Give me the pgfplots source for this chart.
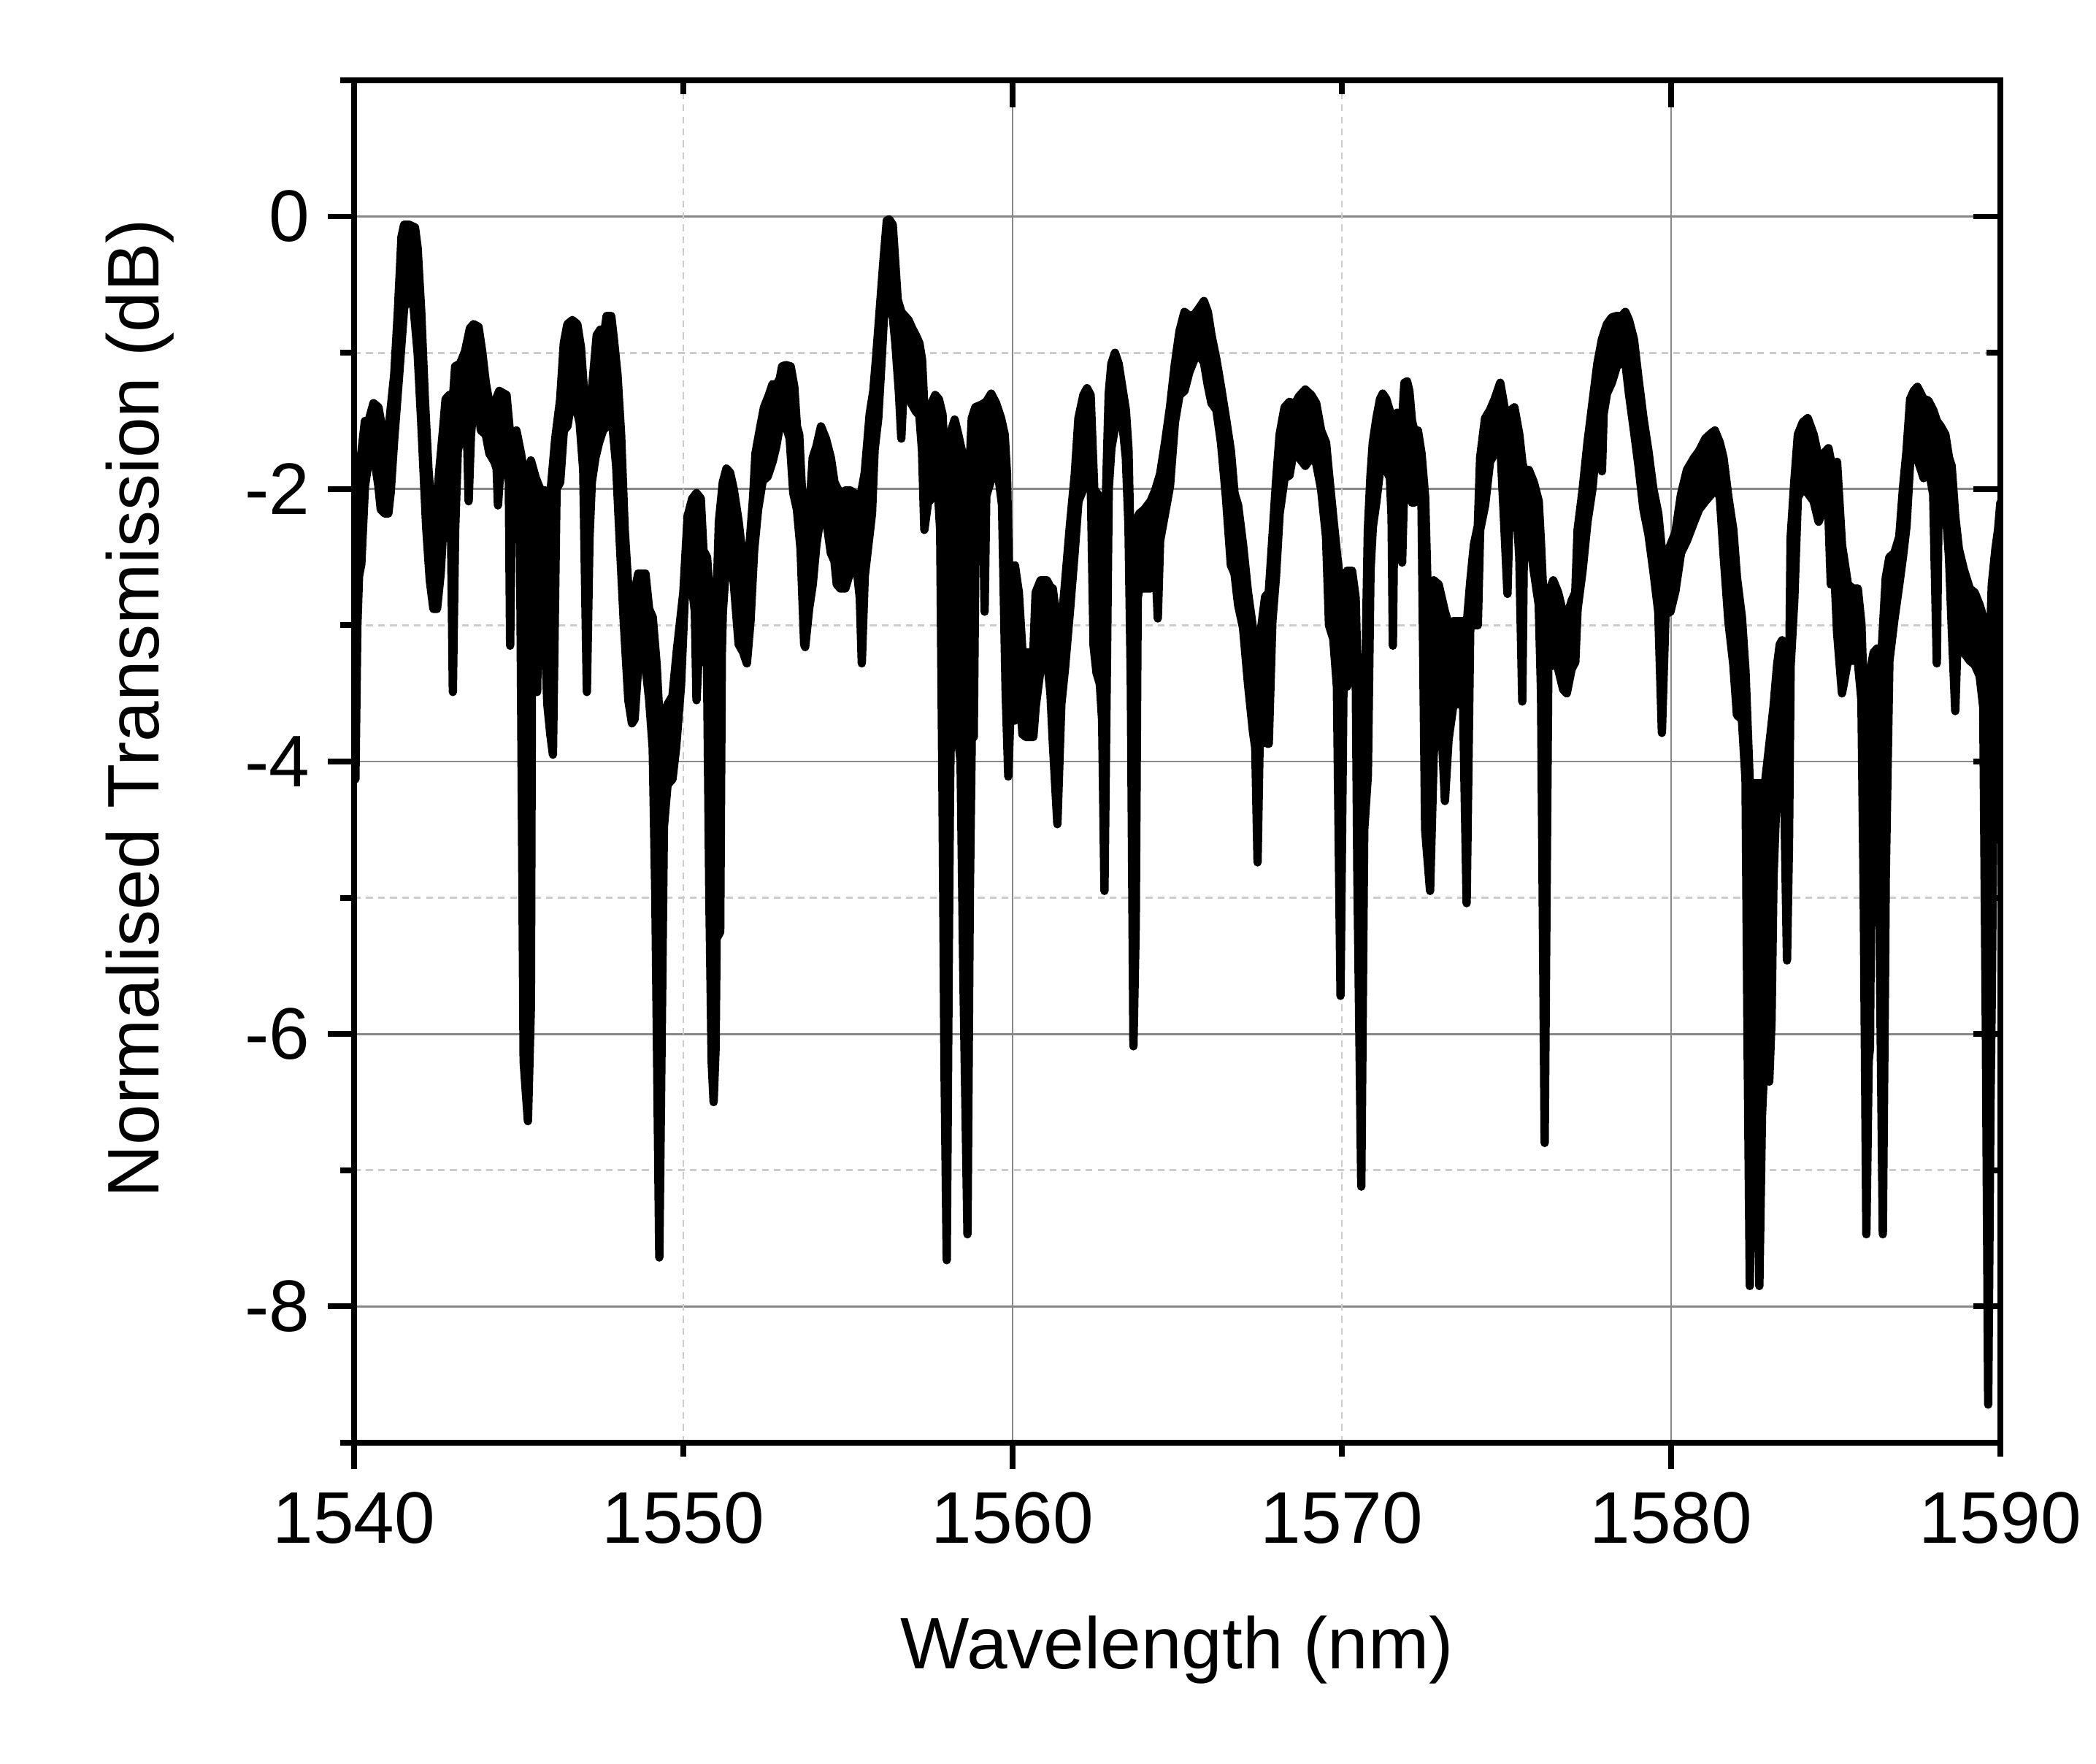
\documentclass[border=0pt]{standalone}
\usepackage{fontspec}
\setmainfont{Liberation Sans}
\usepackage{pgfplots}
\usepackage{pgfplotstable}
\pgfplotsset{compat=1.18}

% Upper and lower edges of the noisy transmission trace
\pgfplotstableread{
x y
1540.00 -2.60
1540.04 -2.03
1540.19 -1.80
1540.33 -1.50
1540.44 -1.50
1540.59 -1.37
1540.74 -1.40
1540.85 -1.55
1540.93 -1.60
1541.07 -1.51
1541.22 -1.16
1541.33 -0.70
1541.44 -0.15
1541.52 -0.06
1541.67 -0.06
1541.85 -0.08
1541.93 -0.23
1542.04 -0.70
1542.15 -1.34
1542.26 -1.86
1542.37 -2.20
1542.48 -2.21
1542.59 -1.86
1542.70 -1.57
1542.78 -1.34
1542.89 -1.31
1543.00 -1.34
1543.07 -1.10
1543.22 -1.08
1543.37 -0.99
1543.52 -0.82
1543.63 -0.79
1543.78 -0.81
1543.89 -0.99
1544.00 -1.22
1544.11 -1.37
1544.26 -1.37
1544.41 -1.28
1544.63 -1.31
1544.74 -1.60
1544.85 -1.60
1544.93 -1.57
1545.07 -1.74
1545.22 -1.98
1545.37 -1.79
1545.52 -1.92
1545.67 -2.01
1545.81 -2.01
1545.96 -2.04
1546.11 -1.63
1546.26 -1.34
1546.37 -0.93
1546.48 -0.79
1546.63 -0.76
1546.78 -0.79
1546.89 -0.96
1547.00 -1.34
1547.11 -1.63
1547.22 -1.28
1547.37 -0.87
1547.48 -0.83
1547.59 -0.87
1547.67 -0.73
1547.81 -0.73
1547.89 -0.90
1548.00 -1.16
1548.11 -1.60
1548.22 -2.30
1548.37 -2.88
1548.52 -2.76
1548.63 -2.62
1548.85 -2.62
1548.96 -2.88
1549.07 -2.94
1549.19 -3.29
1549.30 -3.80
1549.37 -3.70
1549.52 -3.58
1549.67 -3.52
1549.81 -3.17
1550.00 -2.76
1550.13 -2.20
1550.27 -2.07
1550.40 -2.03
1550.53 -2.07
1550.61 -2.45
1550.72 -2.50
1550.79 -2.73
1550.90 -2.85
1551.01 -2.80
1551.08 -2.24
1551.20 -1.95
1551.31 -1.85
1551.42 -1.88
1551.53 -2.00
1551.68 -2.24
1551.79 -2.47
1551.90 -2.58
1552.01 -2.41
1552.12 -2.06
1552.19 -1.74
1552.34 -1.54
1552.45 -1.40
1552.60 -1.31
1552.71 -1.23
1552.82 -1.24
1552.93 -1.19
1553.00 -1.10
1553.11 -1.09
1553.26 -1.10
1553.37 -1.25
1553.45 -1.54
1553.52 -1.60
1553.59 -1.95
1553.70 -2.36
1553.82 -2.18
1553.93 -1.77
1554.04 -1.69
1554.18 -1.54
1554.33 -1.63
1554.48 -1.77
1554.59 -1.95
1554.77 -2.04
1554.92 -2.01
1555.07 -2.01
1555.25 -2.04
1555.37 -2.07
1555.51 -1.88
1555.66 -1.45
1555.77 -1.28
1555.85 -1.05
1555.96 -0.70
1556.07 -0.35
1556.18 -0.03
1556.25 -0.02
1556.36 -0.06
1556.44 -0.35
1556.51 -0.61
1556.62 -0.70
1556.73 -0.73
1556.84 -0.76
1556.95 -0.82
1557.06 -0.87
1557.17 -0.93
1557.25 -1.05
1557.32 -1.40
1557.43 -1.54
1557.54 -1.37
1557.65 -1.31
1557.76 -1.34
1557.87 -1.45
1557.95 -1.80
1558.02 -1.80
1558.10 -1.60
1558.24 -1.49
1558.35 -1.60
1558.46 -1.72
1558.54 -2.06
1558.65 -2.06
1558.76 -1.48
1558.87 -1.40
1559.06 -1.38
1559.20 -1.36
1559.35 -1.30
1559.50 -1.37
1559.65 -1.48
1559.76 -1.60
1559.83 -1.89
1559.90 -2.76
1559.98 -2.59
1560.07 -2.56
1560.19 -2.76
1560.30 -3.20
1560.41 -3.20
1560.63 -3.20
1560.70 -2.76
1560.85 -2.67
1561.04 -2.67
1561.15 -2.72
1561.22 -2.73
1561.36 -3.00
1561.48 -3.00
1561.59 -2.70
1561.74 -2.27
1561.89 -1.89
1562.00 -1.48
1562.15 -1.31
1562.26 -1.26
1562.37 -1.31
1562.48 -2.00
1562.62 -2.05
1562.72 -2.90
1562.84 -2.00
1562.92 -1.30
1563.00 -1.08
1563.11 -1.00
1563.22 -1.08
1563.33 -1.25
1563.44 -1.42
1563.52 -1.71
1563.59 -2.50
1563.67 -2.60
1563.74 -2.24
1563.85 -2.18
1564.00 -2.15
1564.19 -2.09
1564.33 -2.01
1564.48 -1.89
1564.63 -1.66
1564.78 -1.40
1564.93 -1.08
1565.07 -0.84
1565.22 -0.70
1565.37 -0.73
1565.52 -0.72
1565.67 -0.67
1565.81 -0.62
1565.93 -0.70
1566.04 -0.87
1566.19 -1.05
1566.33 -1.25
1566.48 -1.48
1566.63 -1.72
1566.74 -2.03
1566.85 -2.12
1567.00 -2.41
1567.15 -2.76
1567.30 -3.02
1567.37 -3.22
1567.44 -3.50
1567.56 -3.00
1567.67 -2.79
1567.78 -2.76
1567.89 -2.36
1568.00 -1.95
1568.11 -1.60
1568.26 -1.40
1568.41 -1.36
1568.56 -1.38
1568.70 -1.32
1568.89 -1.27
1569.07 -1.31
1569.22 -1.37
1569.37 -1.57
1569.52 -1.66
1569.61 -1.89
1569.74 -2.21
1569.85 -2.47
1569.96 -2.70
1570.05 -2.70
1570.16 -2.60
1570.31 -2.60
1570.42 -2.80
1570.50 -3.60
1570.59 -4.00
1570.68 -3.80
1570.79 -2.30
1570.87 -1.90
1570.94 -1.66
1571.05 -1.48
1571.16 -1.34
1571.24 -1.30
1571.35 -1.34
1571.46 -1.43
1571.55 -1.50
1571.64 -1.45
1571.68 -1.44
1571.83 -1.50
1571.90 -1.22
1571.98 -1.21
1572.05 -1.28
1572.13 -1.50
1572.20 -1.57
1572.31 -1.57
1572.42 -1.74
1572.53 -2.06
1572.60 -2.70
1572.68 -2.90
1572.79 -2.67
1572.94 -2.70
1573.13 -2.90
1573.24 -2.99
1573.39 -2.97
1573.53 -2.97
1573.68 -2.97
1573.79 -3.00
1573.90 -2.68
1574.01 -2.41
1574.13 -2.27
1574.20 -1.77
1574.35 -1.48
1574.50 -1.42
1574.64 -1.34
1574.81 -1.22
1574.94 -1.40
1575.03 -1.45
1575.09 -1.43
1575.24 -1.40
1575.39 -1.60
1575.48 -1.80
1575.53 -1.86
1575.68 -1.86
1575.83 -1.95
1575.98 -2.09
1576.05 -2.41
1576.16 -3.00
1576.27 -2.76
1576.42 -2.67
1576.57 -2.76
1576.72 -2.91
1576.83 -2.94
1576.98 -2.82
1577.09 -2.76
1577.16 -2.30
1577.31 -2.01
1577.46 -1.66
1577.61 -1.37
1577.76 -1.08
1577.90 -0.90
1578.05 -0.79
1578.20 -0.74
1578.35 -0.73
1578.50 -0.73
1578.61 -0.70
1578.72 -0.76
1578.87 -0.90
1579.01 -1.19
1579.16 -1.48
1579.31 -1.72
1579.46 -2.00
1579.61 -2.18
1579.72 -2.45
1579.83 -2.50
1579.98 -2.41
1580.13 -2.32
1580.30 -2.04
1580.48 -1.86
1580.70 -1.77
1580.85 -1.72
1581.04 -1.63
1581.22 -1.59
1581.33 -1.57
1581.48 -1.66
1581.59 -1.77
1581.74 -2.06
1581.89 -2.30
1582.00 -2.65
1582.15 -2.94
1582.26 -3.34
1582.39 -4.16
1582.85 -4.16
1583.00 -3.84
1583.11 -3.60
1583.22 -3.29
1583.30 -3.14
1583.37 -3.11
1583.52 -3.20
1583.59 -3.23
1583.63 -2.36
1583.74 -1.95
1583.85 -1.60
1584.00 -1.51
1584.15 -1.48
1584.33 -1.60
1584.48 -1.77
1584.63 -1.74
1584.78 -1.70
1584.93 -1.89
1585.04 -1.80
1585.19 -2.41
1585.37 -2.70
1585.52 -2.73
1585.67 -2.73
1585.78 -2.99
1585.89 -3.80
1586.04 -3.34
1586.15 -3.20
1586.26 -3.17
1586.37 -3.29
1586.52 -2.65
1586.63 -2.50
1586.78 -2.47
1586.93 -2.35
1587.04 -2.00
1587.15 -1.72
1587.26 -1.34
1587.37 -1.28
1587.48 -1.25
1587.67 -1.34
1587.81 -1.35
1587.96 -1.42
1588.07 -1.50
1588.19 -1.54
1588.33 -1.60
1588.44 -1.77
1588.52 -1.83
1588.63 -2.20
1588.74 -2.44
1588.89 -2.59
1589.07 -2.73
1589.22 -2.76
1589.37 -2.85
1589.48 -2.94
1589.56 -3.00
1589.63 -3.50
1589.74 -2.70
1589.85 -2.44
1589.93 -2.30
1590.00 -2.10
}\envhi

\pgfplotstableread{
x y
1540.00 -2.60
1540.04 -4.13
1540.10 -3.00
1540.15 -2.64
1540.22 -2.55
1540.33 -1.98
1540.44 -1.80
1540.63 -1.80
1540.74 -1.98
1540.81 -2.15
1540.93 -2.18
1541.04 -2.18
1541.11 -2.03
1541.22 -1.63
1541.37 -1.16
1541.52 -0.67
1541.67 -0.58
1541.81 -0.67
1541.93 -1.00
1542.04 -1.51
1542.19 -2.28
1542.30 -2.67
1542.41 -2.88
1542.52 -2.88
1542.63 -2.62
1542.74 -2.15
1542.85 -1.91
1542.93 -2.00
1543.00 -3.49
1543.07 -2.30
1543.15 -1.72
1543.26 -1.60
1543.37 -1.60
1543.44 -1.70
1543.48 -2.09
1543.55 -1.60
1543.67 -1.28
1543.78 -1.40
1543.85 -1.57
1544.00 -1.60
1544.11 -1.74
1544.26 -1.80
1544.33 -1.85
1544.37 -2.12
1544.45 -1.83
1544.63 -1.83
1544.70 -1.95
1544.74 -3.15
1544.80 -2.00
1544.85 -2.04
1544.96 -2.20
1545.04 -2.37
1545.15 -6.20
1545.28 -6.64
1545.37 -5.80
1545.41 -2.74
1545.48 -2.90
1545.56 -3.49
1545.62 -2.50
1545.67 -2.45
1545.74 -2.74
1545.87 -3.58
1545.96 -3.80
1546.04 -3.95
1546.15 -2.00
1546.26 -1.95
1546.37 -1.57
1546.48 -1.54
1546.63 -1.31
1546.74 -1.40
1546.85 -1.51
1546.96 -1.86
1547.07 -3.49
1547.15 -2.36
1547.22 -1.95
1547.33 -1.77
1547.44 -1.66
1547.56 -1.57
1547.67 -1.54
1547.74 -1.31
1547.85 -1.54
1547.96 -1.83
1548.07 -2.39
1548.19 -2.97
1548.33 -3.55
1548.44 -3.72
1548.52 -3.69
1548.63 -3.30
1548.74 -3.23
1548.85 -3.30
1548.96 -3.54
1549.07 -3.90
1549.15 -5.00
1549.27 -7.64
1549.37 -5.40
1549.41 -4.48
1549.52 -4.17
1549.67 -4.13
1549.78 -3.90
1549.93 -3.44
1550.05 -2.76
1550.27 -2.73
1550.35 -2.90
1550.40 -3.55
1550.46 -3.25
1550.53 -3.20
1550.64 -3.22
1550.72 -3.30
1550.79 -5.00
1550.86 -6.20
1550.92 -6.50
1550.98 -6.10
1551.01 -5.30
1551.12 -5.25
1551.17 -3.20
1551.20 -2.90
1551.31 -2.50
1551.42 -2.56
1551.53 -2.68
1551.68 -3.14
1551.82 -3.20
1551.93 -3.28
1552.04 -2.97
1552.15 -2.45
1552.27 -2.15
1552.41 -1.94
1552.56 -1.91
1552.71 -1.80
1552.82 -1.69
1552.93 -1.54
1553.08 -1.51
1553.23 -1.63
1553.34 -2.03
1553.45 -2.15
1553.56 -2.44
1553.67 -3.14
1553.70 -3.16
1553.82 -2.88
1553.93 -2.70
1554.04 -2.41
1554.18 -2.18
1554.33 -2.21
1554.48 -2.47
1554.59 -2.53
1554.66 -2.70
1554.77 -2.73
1554.92 -2.73
1555.03 -2.64
1555.18 -2.56
1555.29 -2.64
1555.36 -2.80
1555.42 -3.28
1555.51 -2.64
1555.62 -2.41
1555.73 -2.18
1555.81 -1.71
1555.92 -1.48
1556.03 -1.02
1556.10 -0.70
1556.25 -0.70
1556.36 -0.73
1556.44 -0.93
1556.55 -1.30
1556.62 -1.63
1556.69 -1.25
1556.80 -1.28
1556.92 -1.37
1557.06 -1.43
1557.17 -1.46
1557.25 -1.72
1557.32 -2.30
1557.43 -2.10
1557.54 -2.07
1557.65 -1.88
1557.73 -2.00
1557.80 -2.30
1557.87 -4.20
1557.93 -6.20
1558.00 -7.66
1558.06 -5.50
1558.10 -4.20
1558.17 -3.00
1558.24 -3.85
1558.35 -3.84
1558.42 -4.00
1558.50 -5.50
1558.63 -7.47
1558.70 -5.00
1558.76 -3.83
1558.82 -3.82
1558.87 -2.50
1558.91 -2.20
1559.02 -1.96
1559.10 -2.10
1559.15 -2.90
1559.20 -2.05
1559.39 -1.90
1559.54 -1.85
1559.68 -2.12
1559.79 -3.50
1559.87 -4.11
1559.98 -3.30
1560.07 -3.70
1560.19 -3.40
1560.30 -3.80
1560.41 -3.82
1560.63 -3.82
1560.70 -3.60
1560.85 -3.32
1561.04 -3.23
1561.15 -3.50
1561.22 -3.85
1561.36 -4.46
1561.48 -3.58
1561.59 -3.32
1561.74 -2.90
1561.89 -2.45
1562.00 -2.09
1562.15 -2.00
1562.26 -1.86
1562.37 -1.90
1562.46 -3.15
1562.55 -3.35
1562.65 -3.43
1562.72 -3.70
1562.79 -4.95
1562.86 -3.40
1562.92 -2.00
1563.00 -1.70
1563.11 -1.55
1563.22 -1.48
1563.33 -1.51
1563.44 -1.77
1563.52 -2.27
1563.59 -3.40
1563.67 -6.09
1563.74 -5.20
1563.80 -2.80
1563.85 -2.73
1564.00 -2.73
1564.19 -2.73
1564.33 -2.50
1564.41 -2.95
1564.48 -2.38
1564.63 -2.18
1564.78 -1.98
1564.93 -1.51
1565.07 -1.31
1565.22 -1.28
1565.37 -1.14
1565.52 -1.05
1565.67 -1.02
1565.81 -1.07
1565.93 -1.24
1566.04 -1.37
1566.19 -1.42
1566.33 -1.66
1566.48 -2.06
1566.63 -2.56
1566.74 -2.62
1566.85 -2.85
1567.00 -3.02
1567.15 -3.43
1567.30 -3.78
1567.37 -3.90
1567.44 -4.74
1567.50 -3.90
1567.56 -3.84
1567.67 -3.30
1567.74 -3.87
1567.78 -3.87
1567.89 -2.97
1568.00 -2.64
1568.11 -2.18
1568.26 -1.92
1568.41 -1.90
1568.56 -1.69
1568.70 -1.77
1568.89 -1.83
1569.07 -1.77
1569.22 -1.81
1569.37 -2.00
1569.52 -2.35
1569.61 -3.00
1569.74 -3.10
1569.85 -3.45
1569.96 -5.72
1570.05 -3.40
1570.16 -3.45
1570.31 -3.25
1570.42 -3.30
1570.47 -4.80
1570.59 -7.12
1570.68 -4.50
1570.79 -4.10
1570.87 -2.60
1570.94 -2.28
1571.05 -2.09
1571.16 -1.86
1571.35 -1.86
1571.46 -1.92
1571.51 -2.20
1571.55 -3.15
1571.60 -2.00
1571.74 -1.90
1571.83 -2.54
1571.90 -1.90
1572.05 -1.95
1572.13 -2.10
1572.20 -2.10
1572.31 -1.95
1572.42 -2.12
1572.53 -4.50
1572.68 -4.95
1572.79 -3.95
1572.94 -3.30
1573.13 -4.29
1573.24 -3.84
1573.39 -3.58
1573.53 -3.58
1573.68 -3.55
1573.79 -5.04
1573.90 -3.00
1574.01 -3.00
1574.13 -3.00
1574.20 -2.30
1574.35 -2.12
1574.50 -1.80
1574.64 -1.74
1574.81 -1.66
1574.94 -2.30
1575.03 -2.77
1575.09 -2.20
1575.24 -1.90
1575.39 -2.50
1575.48 -3.56
1575.53 -2.40
1575.68 -2.35
1575.83 -2.60
1575.98 -2.85
1576.05 -3.50
1576.16 -6.80
1576.27 -3.32
1576.42 -3.27
1576.57 -3.32
1576.72 -3.47
1576.83 -3.50
1576.98 -3.32
1577.09 -3.27
1577.16 -2.88
1577.31 -2.60
1577.46 -2.24
1577.61 -2.00
1577.76 -1.60
1577.85 -1.50
1577.90 -1.87
1577.95 -1.45
1578.05 -1.30
1578.20 -1.22
1578.35 -1.10
1578.50 -1.07
1578.61 -1.07
1578.72 -1.30
1578.87 -1.57
1579.01 -1.83
1579.16 -2.15
1579.31 -2.33
1579.46 -2.60
1579.61 -2.90
1579.72 -3.79
1579.83 -2.92
1579.98 -2.90
1580.13 -2.75
1580.30 -2.47
1580.48 -2.38
1580.70 -2.24
1580.85 -2.15
1581.04 -2.09
1581.22 -2.04
1581.33 -1.98
1581.48 -2.06
1581.59 -2.47
1581.74 -2.97
1581.89 -3.29
1582.00 -3.66
1582.15 -3.69
1582.26 -4.13
1582.32 -6.00
1582.39 -7.85
1582.46 -6.50
1582.52 -5.85
1582.60 -6.50
1582.68 -7.85
1582.76 -6.60
1582.85 -6.10
1582.98 -6.35
1583.05 -5.90
1583.11 -4.85
1583.22 -4.13
1583.30 -3.69
1583.40 -3.70
1583.46 -4.60
1583.52 -5.46
1583.58 -4.60
1583.63 -3.30
1583.74 -2.82
1583.85 -2.06
1584.00 -2.00
1584.15 -2.03
1584.33 -2.09
1584.48 -2.24
1584.63 -2.15
1584.78 -2.20
1584.85 -2.70
1584.93 -2.45
1585.04 -3.05
1585.19 -3.50
1585.37 -3.26
1585.52 -3.26
1585.67 -3.26
1585.78 -3.55
1585.85 -5.00
1585.93 -7.47
1586.00 -6.20
1586.04 -6.10
1586.10 -4.00
1586.15 -3.78
1586.26 -3.84
1586.32 -5.00
1586.43 -7.47
1586.50 -5.50
1586.52 -4.83
1586.63 -3.26
1586.78 -2.96
1586.93 -2.70
1587.04 -2.50
1587.15 -2.27
1587.26 -1.80
1587.37 -1.78
1587.48 -1.78
1587.67 -1.92
1587.81 -1.83
1587.96 -2.04
1588.07 -3.28
1588.12 -2.20
1588.19 -2.10
1588.33 -2.12
1588.44 -2.50
1588.52 -3.00
1588.63 -3.63
1588.70 -3.10
1588.74 -3.08
1588.89 -3.20
1589.07 -3.26
1589.22 -3.29
1589.37 -3.37
1589.48 -3.60
1589.56 -6.00
1589.63 -8.72
1589.70 -6.50
1589.74 -5.70
1589.80 -4.00
1589.85 -3.40
1589.93 -3.20
1590.00 -3.00
}\envlo

% closed outline of the band: upper edge left to right, lower edge back
\pgfplotstablesort[sort key=x, sort cmp=float >]\envlorev{\envlo}
\pgfplotstablevertcat{\envhi}{\envlorev}

\definecolor{gridmajor}{RGB}{136,136,136}
\definecolor{gridminor}{RGB}{204,204,204}

\begin{document}
\begin{tikzpicture}
\pgfplotsset{
  frame/.style={
    scale only axis,
    width=315.7pt, height=261.24pt,
    xmin=1540, xmax=1590, ymin=-9, ymax=1,
    every tick/.style={black, line width=1.1pt},
  },
}
\begin{axis}[
  frame,
  axis line style={black, line width=1.1pt},
  tick align=outside,
  xtick pos=left, ytick pos=left,
  xtick={1540,1560,1580}, xticklabels={1540,1560,1580},
  extra x ticks={1550,1570,1590}, extra x tick labels={1550,1570,1590},
  extra x tick style={major tick length=2.65pt, xmajorgrids=true,
    xticklabel style={yshift=-2.35pt},
    major grid style={color=gridminor, line width=0.4pt, dash pattern=on 1.3pt off 1pt}},
  ytick={0,-2,-4,-6,-8}, yticklabels={0,-2,-4,-6,-8},
  minor ytick={1,-1,-3,-5,-7,-9},
  major tick length=5pt, minor tick length=2.65pt,
  xmajorgrids, ymajorgrids, yminorgrids,
  major grid style={color=gridmajor, line width=0.4pt},
  minor grid style={color=gridminor, line width=0.4pt, dash pattern=on 1.3pt off 1pt},
  tick label style={font=\fontsize{14}{17}\selectfont, text=black},
  xticklabel style={yshift=-1pt},
]
\addplot[black, fill=black, line width=1.6pt, line join=round] table {\envhi};
\coordinate (SW) at (rel axis cs:0,0);
\coordinate (NE) at (rel axis cs:1,1);
\coordinate (W) at (rel axis cs:0,0.5);
\coordinate (S) at (rel axis cs:0.5,0);
\end{axis}
% frame and inward ticks on the top and right edges, drawn last
\begin{axis}[
  frame,
  at={(SW)}, anchor=south west,
  axis line style={black, line width=1.1pt},
  tick align=inside,
  xtick pos=right, ytick pos=right,
  xtick={1540,1560,1580}, minor xtick={1550,1570,1590},
  ytick={0,-2,-4,-6,-8}, minor ytick={1,-1,-3,-5,-7,-9},
  xticklabels={}, yticklabels={},
  major tick length=5.15pt, minor tick length=2.65pt,
]
\end{axis}
\node[font=\fontsize{14}{17}\selectfont, anchor=base] at ([yshift=-43.3pt]S) {Wavelength (nm)};
\node[font=\fontsize{14}{17}\selectfont, anchor=base, rotate=90] at ([xshift=-37.4pt, yshift=10.2pt]W) {Normalised Transmission (dB)};
\pgfresetboundingbox
\path[use as bounding box] ([shift={(-67.9pt,-61.46pt)}]SW) rectangle ([shift={(18.34pt,15.4pt)}]NE);
\end{tikzpicture}
\end{document}
